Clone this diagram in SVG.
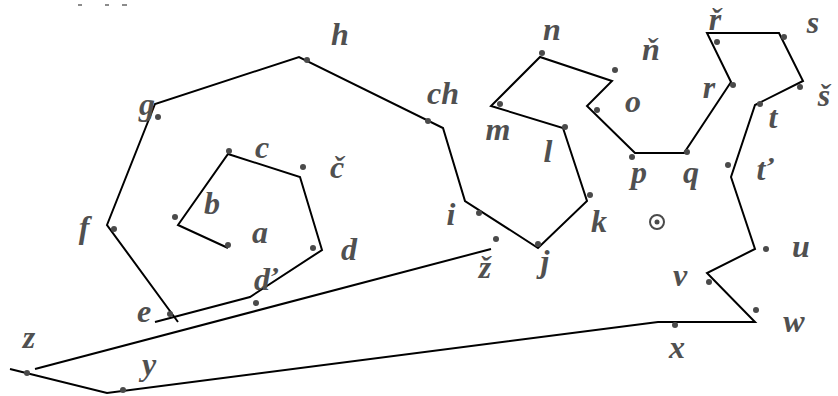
<svg xmlns="http://www.w3.org/2000/svg" width="838" height="396" viewBox="0 0 838 396">
<style>
.bg{fill:#fff}
.ln{fill:none;stroke:#000;stroke-width:2;stroke-linejoin:miter}
.dot{fill:#4a4a4a}
.lb{font-family:"Liberation Serif","DejaVu Serif",serif;font-style:italic;font-weight:bold;font-size:32px;fill:#505050;text-anchor:middle}
.mk{stroke:#666;stroke-width:1.5}
</style>
<rect class="bg" width="838" height="396"/>
<g id="marks"><line class="mk" x1="78" y1="5" x2="82" y2="5"/><line class="mk" x1="105" y1="5" x2="109" y2="5"/><line class="mk" x1="122" y1="5" x2="127" y2="5"/></g>
<g id="connectors">
<polyline class="ln" points="228,248 178,225 228,154 300,177 322,250 250,297 155,322"/>
<polyline class="ln" points="178,322 107,225 155,104 299,57 443,128 465,201 538,248 587,201 563,128 491,106 540,57 612,81 587,106 635,153 684,153 731,82 707,33 779,33 803,81 755,105 731,177 755,249 707,273 755,322 658,322 107,393 10,369"/>
<polyline class="ln" points="35,369 491,249"/>
</g>
<g id="a"><circle class="dot" cx="228" cy="245" r="3"/><text class="lb" x="260" y="243">a</text></g>
<g id="b"><circle class="dot" cx="175" cy="217" r="3"/><text class="lb" x="212" y="214">b</text></g>
<g id="c"><circle class="dot" cx="229" cy="151" r="3"/><text class="lb" x="262" y="158">c</text></g>
<g id="c-caron"><circle class="dot" cx="303" cy="167" r="3"/><text class="lb" x="337" y="178">č</text></g>
<g id="d"><circle class="dot" cx="313" cy="248" r="3"/><text class="lb" x="349" y="260">d</text></g>
<g id="d-caron"><circle class="dot" cx="256" cy="303" r="3"/><text class="lb" x="266" y="290">ď</text></g>
<g id="e"><circle class="dot" cx="170" cy="314" r="3"/><text class="lb" x="144" y="322">e</text></g>
<g id="f"><circle class="dot" cx="114" cy="229" r="3"/><text class="lb" x="84" y="238">f</text></g>
<g id="g"><circle class="dot" cx="158" cy="117" r="3"/><text class="lb" x="147" y="115">g</text></g>
<g id="h"><circle class="dot" cx="307" cy="60" r="3"/><text class="lb" x="340" y="45">h</text></g>
<g id="ch"><circle class="dot" cx="428" cy="121" r="3"/><text class="lb" x="443" y="104">ch</text></g>
<g id="i"><circle class="dot" cx="479" cy="213" r="3"/><text class="lb" x="451" y="225">i</text></g>
<g id="z-caron"><circle class="dot" cx="496" cy="239" r="3"/><text class="lb" x="485" y="278">ž</text></g>
<g id="j"><circle class="dot" cx="538" cy="244" r="3"/><text class="lb" x="545" y="272">j</text></g>
<g id="k"><circle class="dot" cx="590" cy="195" r="3"/><text class="lb" x="599" y="232">k</text></g>
<g id="l"><circle class="dot" cx="565" cy="127" r="3"/><text class="lb" x="548" y="162">l</text></g>
<g id="m"><circle class="dot" cx="500" cy="104" r="3"/><text class="lb" x="498" y="140">m</text></g>
<g id="n"><circle class="dot" cx="542" cy="53" r="3"/><text class="lb" x="552" y="40">n</text></g>
<g id="n-caron"><circle class="dot" cx="615" cy="70" r="3"/><text class="lb" x="651" y="60">ň</text></g>
<g id="o"><circle class="dot" cx="597" cy="110" r="3"/><text class="lb" x="633" y="112">o</text></g>
<g id="p"><circle class="dot" cx="632" cy="157" r="3"/><text class="lb" x="639" y="183">p</text></g>
<g id="q"><circle class="dot" cx="687" cy="152" r="3"/><text class="lb" x="691" y="183">q</text></g>
<g id="r"><circle class="dot" cx="733" cy="85" r="3"/><text class="lb" x="709" y="98">r</text></g>
<g id="r-caron"><circle class="dot" cx="717" cy="42" r="3"/><text class="lb" x="715" y="30">ř</text></g>
<g id="s"><circle class="dot" cx="784" cy="37" r="3"/><text class="lb" x="813" y="33">s</text></g>
<g id="s-caron"><circle class="dot" cx="800" cy="87" r="3"/><text class="lb" x="824" y="106">š</text></g>
<g id="t"><circle class="dot" cx="760" cy="104" r="3"/><text class="lb" x="773" y="128">t</text></g>
<g id="t-caron"><circle class="dot" cx="728" cy="165" r="3"/><text class="lb" x="765" y="180">ť</text></g>
<g id="u"><circle class="dot" cx="766" cy="249" r="3"/><text class="lb" x="801" y="257">u</text></g>
<g id="v"><circle class="dot" cx="709" cy="282" r="3"/><text class="lb" x="680" y="286">v</text></g>
<g id="w"><circle class="dot" cx="756" cy="310" r="3"/><text class="lb" x="794" y="332">w</text></g>
<g id="x"><circle class="dot" cx="675" cy="325" r="3"/><text class="lb" x="677" y="358">x</text></g>
<g id="y"><circle class="dot" cx="123" cy="390" r="3"/><text class="lb" x="149" y="375">y</text></g>
<g id="z"><circle class="dot" cx="27" cy="373" r="3"/><text class="lb" x="29" y="348">z</text></g>
<g id="start"><circle cx="657" cy="222" r="7" fill="none" stroke="#4a4a4a" stroke-width="2"/><circle class="dot" cx="657" cy="222" r="2.5"/></g>
</svg>
